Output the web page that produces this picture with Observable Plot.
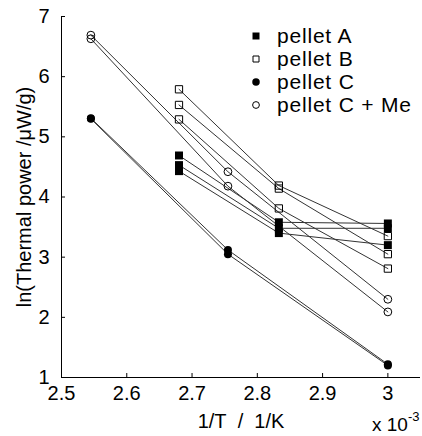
<!DOCTYPE html>
<html><head><meta charset="utf-8">
<script src="https://cdn.jsdelivr.net/npm/d3@7"></script>
<script src="https://cdn.jsdelivr.net/npm/@observablehq/plot@0.6"></script>
<style>
body{margin:0;background:#fff;}
#wrap{position:relative;width:422px;height:436px;}
</style></head><body><div id="wrap"></div>
<script>
// x positions (1/T, units of 1e-3 1/K)
const xAB = [2.68, 2.833, 3.0];
const xC = [2.545, 2.755, 3.0];
// ln(thermal power) series, one inner array per run
const pelletA = [[4.69, 3.58, 3.56], [4.53, 3.48, 3.48], [4.43, 3.40, 3.20]];
const pelletB = [[5.79, 4.19, 3.35], [5.53, 4.14, 3.05], [5.29, 3.81, 2.81]];
const pelletC = [[5.31, 3.12, 1.22], [5.30, 3.05, 1.20]];
const pelletCMe = [[6.69, 4.42, 2.30], [6.63, 4.18, 2.09]];
const seriesNames = ["pellet A", "pellet B", "pellet C", "pellet C + Me"];
const xTicks = [2.5, 2.6, 2.7, 2.8, 2.9, 3];
const yTicks = [1, 2, 3, 4, 5, 6, 7];

function rows(name, xs, sets) {
  return sets.flatMap((ys, i) => ys.map((y, j) => ({name, run: name + i, x: xs[j], y})));
}
const dA = rows(seriesNames[0], xAB, pelletA);
const dB = rows(seriesNames[1], xAB, pelletB);
const dC = rows(seriesNames[2], xC, pelletC);
const dCMe = rows(seriesNames[3], xC, pelletCMe);
const all = [...dA, ...dB, ...dC, ...dCMe];

const FONT = "'Liberation Sans', Arial, Helvetica, sans-serif";
const plot = Plot.plot({
  width: 422, height: 436,
  marginLeft: 61, marginRight: 2, marginTop: 16, marginBottom: 59,
  style: {fontFamily: FONT, fontSize: "20px", color: "black", background: "white"},
  x: {domain: [2.5, 3.05]},
  y: {domain: [1, 7]},
  marks: [
    Plot.line(all, {x: "x", y: "y", z: "run", stroke: "#333", strokeWidth: 1}),
    Plot.dot(dA, {x: "x", y: "y", symbol: "square", r: 4.5, fill: "black", stroke: "none"}),
    Plot.dot(dB, {x: "x", y: "y", symbol: "square", r: 4.1, fill: "none", stroke: "black", strokeWidth: 1}),
    Plot.dot(dC, {x: "x", y: "y", symbol: "circle", r: 4, fill: "black", stroke: "none"}),
    Plot.dot(dCMe, {x: "x", y: "y", symbol: "circle", r: 3.9, fill: "none", stroke: "black", strokeWidth: 1}),
    Plot.ruleX([2.5], {stroke: "black"}),
    Plot.ruleY([1], {stroke: "black"}),
    Plot.axisX(xTicks, {tickSize: 4, dy: -4, tickFormat: () => "", label: null}),
    Plot.axisY(yTicks, {tickSize: 4, dx: 4, tickFormat: () => "", label: null}),
    Plot.axisX(xTicks, {tickSize: 0, tickPadding: 8, tickFormat: d => String(d),
      label: "1/T\u00a0\u00a0/\u00a0\u00a01/K", labelAnchor: "center", labelArrow: "none", labelOffset: 50}),
    Plot.axisY(yTicks, {tickSize: 0, tickPadding: 12, tickFormat: d => String(d),
      label: "ln(Thermal power /\u03bcW/g)", labelAnchor: "center", labelArrow: "none", labelOffset: 45})
  ]
});
document.getElementById("wrap").appendChild(plot);

// legend and exponent annotation
const svg = d3.select(plot);
const leg = svg.append("g").attr("font-family", FONT).attr("font-size", 21)
  .attr("text-anchor", "start").attr("letter-spacing", "0.8px");
const styles = [
  {sym: d3.symbolSquare, size: 49, fill: "black", stroke: "none"},
  {sym: d3.symbolSquare, size: 36, fill: "none", stroke: "black"},
  {sym: d3.symbolCircle, size: 44, fill: "black", stroke: "none"},
  {sym: d3.symbolCircle, size: 36, fill: "none", stroke: "black"}
];
seriesNames.forEach((name, i) => {
  const y = 36 + i * 23;
  leg.append("path").attr("d", d3.symbol(styles[i].sym, styles[i].size)())
    .attr("transform", `translate(256,${y})`).attr("fill", styles[i].fill).attr("stroke", styles[i].stroke);
  leg.append("text").attr("x", 277).attr("y", y).attr("dy", "0.35em").text(name);
});
const ex = svg.append("text").attr("font-family", FONT).attr("font-size", 19)
  .attr("text-anchor", "start").attr("x", 372).attr("y", 431);
ex.append("tspan").text("x 10");
ex.append("tspan").attr("dy", -10).attr("font-size", 13).text("-3");
</script>
</body></html>
